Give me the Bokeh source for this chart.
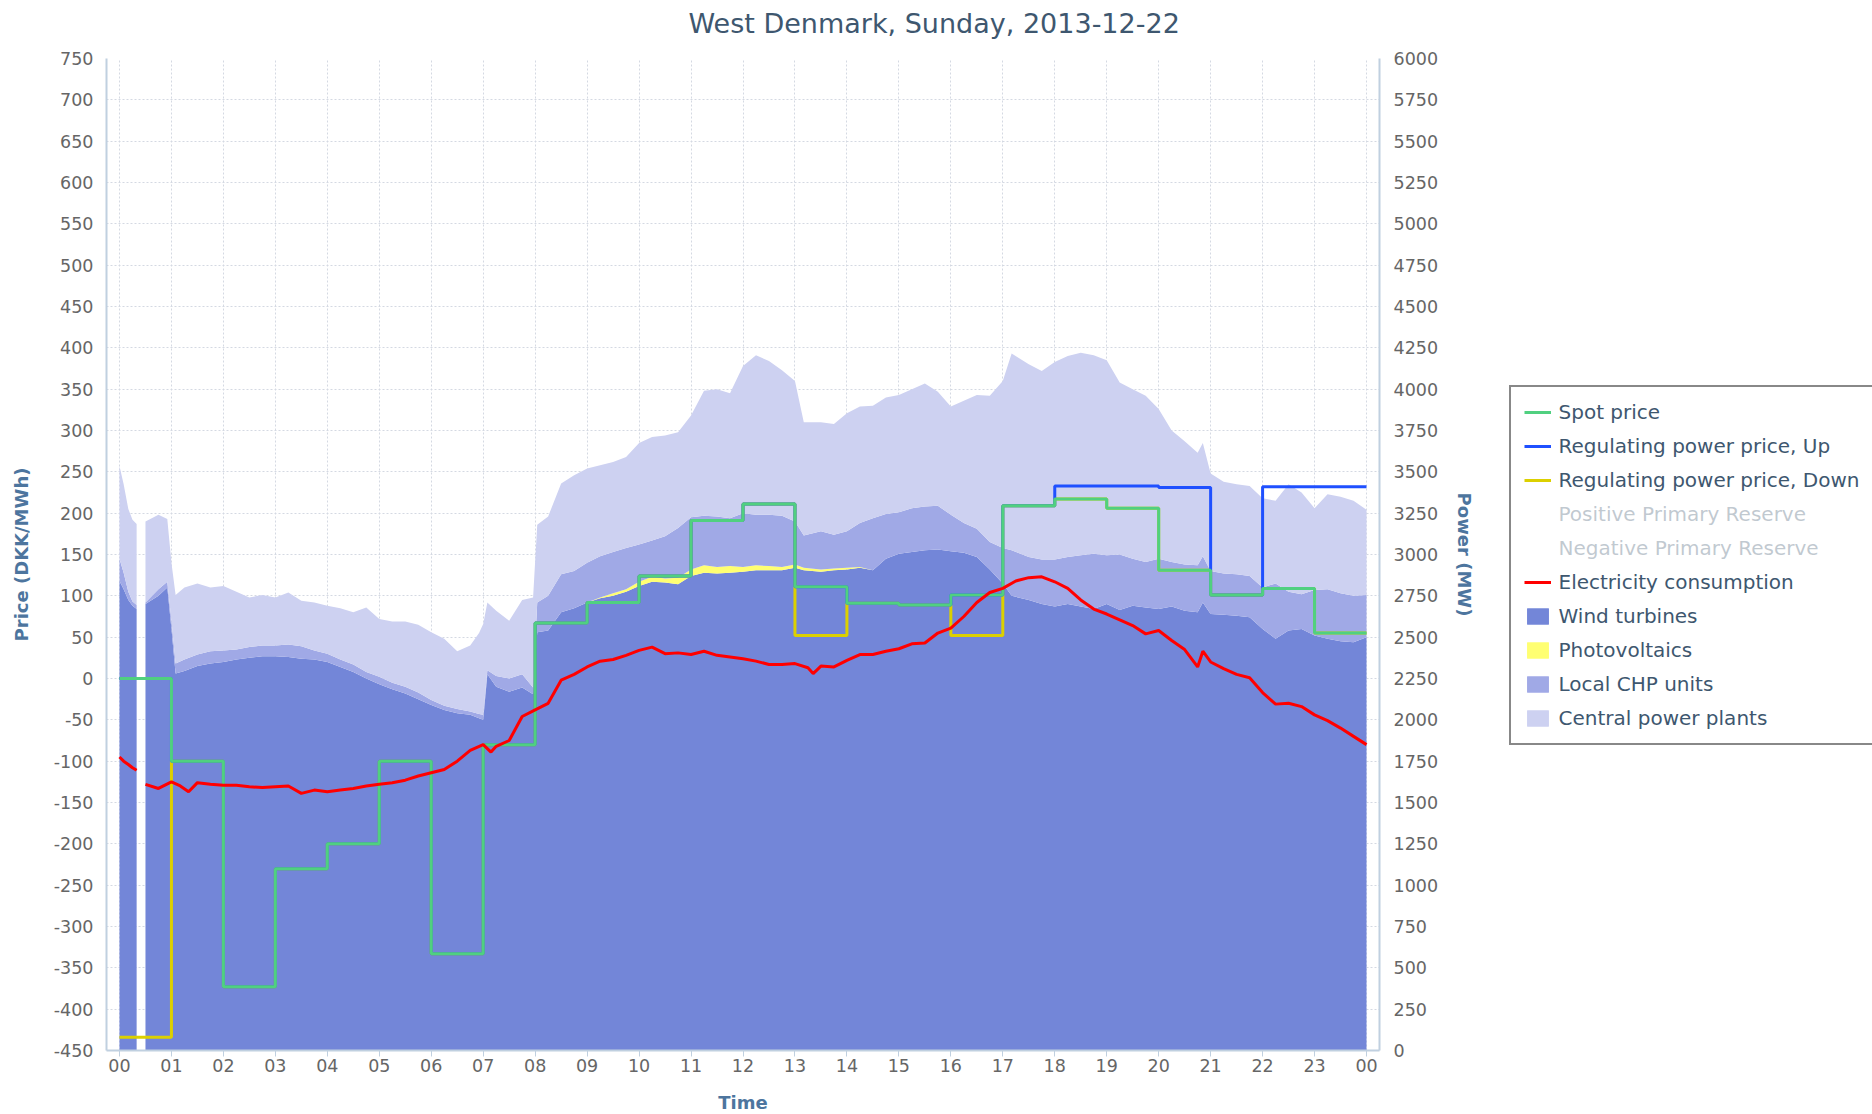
import math
from bokeh.plotting import figure
from bokeh.models import Range1d, LinearAxis, FixedTicker, Legend, LegendItem, Title
from bokeh.embed import file_html
from bokeh.resources import INLINE

NaN = float("nan")

# ---------------- data ----------------
title_text = "West Denmark, Sunday, 2013-12-22"
hour_ticks = list(range(0, 25))
hour_labels = ["00", "01", "02", "03", "04", "05", "06", "07", "08", "09", "10", "11",
               "12", "13", "14", "15", "16", "17", "18", "19", "20", "21", "22", "23", "00"]
price_ticks = list(range(-450, 751, 50))
power_ticks = list(range(0, 6001, 250))

# hourly prices (DKK/MWh), value for hour h..h+1
spot_price = [0, -100, -373, -230, -200, -100, -333, -80, 67, 92, 124, 191,
              211, 111, 91, 89, 101, 209, 217, 206, 131, 101, 109, 55]
reg_up_price = [0, -100, -373, -230, -200, -100, -333, -80, 67, 92, 124, 191,
                211, 111, 91, 89, 101, 209, 233, 233, 231, 101, 232, 232]
reg_down_price = [-434, -100, -373, -230, -200, -100, -333, -80, 67, 92, 124, 191,
                  211, 52, 91, 89, 52, 209, 217, 206, 131, 101, 109, 55]

# production (MW), stacked
area_hours = [0.0, 0.08, 0.17, 0.25, 0.33, 0.42, 0.5, 0.75, 0.92, 1.0, 1.08,
              1.25, 1.5, 1.75, 2.0, 2.25, 2.5, 2.75, 3.0, 3.25, 3.5, 3.75, 4.0, 4.25, 4.5, 4.75,
              5.0, 5.25, 5.5, 5.75, 6.0, 6.25, 6.5, 6.75, 6.92, 7.0,
              7.08, 7.25, 7.5, 7.75, 7.96, 8.04, 8.25, 8.5, 8.75, 9.0, 9.25, 9.5, 9.75, 10.0,
              10.25, 10.5, 10.75, 11.0, 11.25, 11.5, 11.75, 12.0, 12.25, 12.5, 12.75, 13.0,
              13.17, 13.5, 13.75, 14.0, 14.25, 14.5, 14.75, 15.0, 15.25, 15.5, 15.75, 16.0,
              16.25, 16.5, 16.75, 17.0, 17.17, 17.5, 17.75, 18.0, 18.25, 18.5, 18.75, 19.0,
              19.25, 19.5, 19.75, 20.0, 20.25, 20.5, 20.75, 20.85, 21.0, 21.25, 21.5, 21.75,
              22.0, 22.25, 22.5, 22.75, 23.0, 23.25, 23.5, 23.75, 24.0]
wind_mw = [2840, 2790, 2725, 2690, 2670, NaN, 2700, 2750, 2800, 2550, 2280,
           2295, 2325, 2340, 2350, 2365, 2375, 2385, 2385, 2380, 2370, 2365, 2350, 2320, 2290, 2250,
           2215, 2185, 2160, 2125, 2090, 2060, 2040, 2030, 2010, 2000,
           2275, 2200, 2170, 2195, 2155, 2530, 2540, 2650, 2675, 2710, 2735, 2750, 2775, 2810,
           2835, 2830, 2820, 2870, 2890, 2885, 2890, 2895, 2905, 2905, 2905, 2920,
           2905, 2895, 2905, 2910, 2920, 2905, 2975, 3005, 3015, 3025, 3030, 3020,
           3010, 2985, 2910, 2825, 2750, 2725, 2700, 2685, 2700, 2685, 2670, 2700,
           2665, 2690, 2680, 2670, 2685, 2660, 2650, 2710, 2640, 2635, 2630, 2620,
           2550, 2490, 2540, 2550, 2510, 2490, 2475, 2470, 2500]
pv_mw = [0, 0, 0, 0, 0, NaN, 0, 0, 0, 0, 0,
         0, 0, 0, 0, 0, 0, 0, 0, 0, 0, 0, 0, 0, 0, 0,
         0, 0, 0, 0, 0, 0, 0, 0, 0, 0,
         0, 0, 0, 0, 0, 0, 0, 0, 0, 0, 5, 15, 15, 25,
         30, 25, 40, 40, 45, 40, 40, 30, 30, 25, 20, 20,
         15, 15, 10, 10, 5, 0, 0, 0, 0, 0, 0, 0,
         0, 0, 0, 0, 0, 0, 0, 0, 0, 0, 0, 0,
         0, 0, 0, 0, 0, 0, 0, 0, 0, 0, 0, 0,
         0, 0, 0, 0, 0, 0, 0, 0, 0]
chp_mw = [135, 100, 50, 25, 25, NaN, 10, 40, 35, 50, 60,
          70, 70, 75, 70, 60, 65, 65, 65, 75, 75, 55, 50, 45, 45, 40,
          45, 40, 40, 40, 30, 25, 25, 20, 25, 30,
          25, 65, 80, 80, 40, 180, 210, 230, 225, 240, 250, 250, 250, 225,
          220, 255, 300, 315, 300, 305, 290, 325, 305, 310, 310, 260,
          195, 230, 205, 220, 265, 315, 270, 250, 265, 265, 265, 220,
          180, 170, 165, 215, 275, 260, 270, 285, 285, 310, 335, 295,
          335, 285, 275, 305, 270, 280, 285, 280, 260, 250, 250, 250,
          250, 335, 235, 210, 275, 300, 290, 280, 255]
central_mw = [560, 535, 500, 495, 490, NaN, 490, 450, 380, 350, 415,
              435, 430, 385, 390, 350, 300, 305, 290, 315, 275, 290, 290, 310, 315, 390,
              350, 370, 395, 410, 410, 405, 350, 400, 490, 550,
              410, 395, 350, 450, 545, 470, 480, 550, 580, 570, 550, 545, 550, 615,
              625, 610, 580, 615, 755, 770, 755, 890, 965, 930, 880, 850,
              685, 660, 670, 715, 705, 680, 705, 710, 720, 745, 690, 655,
              740, 810, 885, 1010, 1190, 1165, 1140, 1195, 1215, 1225, 1200, 1180,
              1040, 1025, 1005, 905, 795, 745, 680, 685, 590, 555, 545, 545,
              540, 500, 650, 615, 495, 575, 585, 575, 515]

# consumption (MW)
load_hours = [0.0, 0.08, 0.17, 0.25, 0.33, 0.42, 0.5, 0.75,
              1.0, 1.17, 1.33, 1.5, 1.75, 2.0, 2.25, 2.5,
              2.75, 3.0, 3.25, 3.5, 3.75, 4.0, 4.25, 4.5,
              4.75, 5.0, 5.25, 5.5, 5.75, 6.0, 6.25, 6.5,
              6.75, 7.0, 7.15, 7.25, 7.5, 7.75, 8.0, 8.25,
              8.5, 8.75, 9.0, 9.25, 9.5, 9.75, 10.0, 10.25,
              10.5, 10.75, 11.0, 11.25, 11.5, 11.75, 12.0, 12.25,
              12.5, 12.75, 13.0, 13.25, 13.35, 13.5, 13.75, 14.0,
              14.25, 14.5, 14.75, 15.0, 15.25, 15.5, 15.75, 16.0,
              16.25, 16.5, 16.75, 17.0, 17.25, 17.5, 17.75, 18.0,
              18.25, 18.5, 18.75, 19.0, 19.25, 19.5, 19.75, 20.0,
              20.25, 20.5, 20.75, 20.85, 21.0, 21.25, 21.5, 21.75,
              22.0, 22.25, 22.5, 22.75, 23.0, 23.25, 23.5, 23.75, 24.0]
load_mw = [1775, 1750, 1730, 1710, 1695, NaN, 1610, 1585,
           1625, 1600, 1565, 1620, 1610, 1605, 1605, 1595,
           1590, 1595, 1600, 1555, 1575, 1565, 1575, 1585,
           1600, 1610, 1620, 1635, 1660, 1680, 1700, 1750,
           1815, 1850, 1805, 1840, 1875, 2020, 2060, 2100,
           2240, 2275, 2320, 2355, 2365, 2390, 2420, 2440,
           2400, 2405, 2395, 2415, 2390, 2380, 2370, 2355,
           2335, 2335, 2340, 2315, 2280, 2325, 2320, 2360,
           2395, 2395, 2415, 2430, 2460, 2465, 2525, 2555,
           2625, 2710, 2770, 2795, 2840, 2860, 2865, 2835,
           2795, 2725, 2670, 2640, 2605, 2570, 2520, 2540,
           2480, 2425, 2320, 2415, 2350, 2310, 2275, 2255,
           2165, 2095, 2100, 2080, 2030, 1995, 1950, 1900, 1850]

# ---------------- styles ----------------
WIND_C = "#7386d8"
PV_C = "#ffff72"
CHP_C = "#a0a9e6"
CEN_C = "#cdd1f1"
SPOT_C = "#50d080"
UP_C = "#1f50ff"
DOWN_C = "#dcd000"
LOAD_C = "#ff0000"
AXIS_LINE_C = "#c0d0e0"
GRID_C = "#d4d9e2"
TICK_C = "#666666"
TITLE_C = "#3e576f"
AXTITLE_C = "#4d759e"
FONT = "DejaVu Sans"

p = figure(frame_width=1273, frame_height=992,
           x_range=Range1d(-0.25, 24.25), y_range=Range1d(-450, 750),
           output_backend="svg", toolbar_location=None,
           min_border_left=106, min_border_right=493, min_border_top=58, min_border_bottom=40)
p.extra_y_ranges = {"power": Range1d(0, 6000)}
p.outline_line_color = None
p.background_fill_color = "white"
p.border_fill_color = "white"

# title, with a blank (white) spacer between it and the frame
spacer = Title(text="|", text_font=FONT, text_font_size="10px", standoff=6,
               text_color="white", align="left", offset=0)
p.add_layout(spacer, "above")
main_title = Title(text=title_text, align="left", offset=582, vertical_align="bottom", standoff=2,
                   text_font=FONT, text_font_size="27px", text_font_style="normal",
                   text_color=TITLE_C)
p.add_layout(main_title, "above")

# grids
p.xgrid.ticker = FixedTicker(ticks=hour_ticks)
p.ygrid.ticker = FixedTicker(ticks=price_ticks)
for g in (p.xgrid, p.ygrid):
    g.grid_line_color = GRID_C
    g.grid_line_dash = "2 2"
    g.grid_line_width = 1

# axes
xa = p.xaxis[0]
xa.ticker = FixedTicker(ticks=hour_ticks)
xa.major_label_overrides = {t: lab for t, lab in zip(hour_ticks, hour_labels)}
xa.axis_label = "Time"
xa.major_tick_out = 6
xa.major_tick_in = 0
xa.major_label_standoff = 2
xa.axis_label_standoff = 17

ya = p.yaxis[0]
ya.ticker = FixedTicker(ticks=price_ticks)
ya.major_label_overrides = {t: str(t) for t in price_ticks}
ya.axis_label = "Price (DKK/MWh)"
ya.major_tick_out = 0
ya.major_tick_in = 0
ya.major_label_standoff = 13
ya.axis_label_standoff = 19

yr = LinearAxis(y_range_name="power", ticker=FixedTicker(ticks=power_ticks), axis_label="Power (MW)")
yr.major_tick_out = 0
yr.major_tick_in = 0
yr.major_label_standoff = 14
yr.axis_label_standoff = 13
p.add_layout(yr, "right")

for ax in (xa, ya, yr):
    ax.axis_line_color = AXIS_LINE_C
    ax.axis_line_width = 2
    ax.major_tick_line_color = AXIS_LINE_C
    ax.minor_tick_line_color = None
    ax.major_label_text_font = FONT
    ax.major_label_text_font_size = "17.5px"
    ax.major_label_text_color = TICK_C
    ax.axis_label_text_font = FONT
    ax.axis_label_text_font_size = "18px"
    ax.axis_label_text_font_style = "bold"
    ax.axis_label_text_color = AXTITLE_C

# ---------------- stacked areas ----------------
layers = [("Wind turbines", wind_mw, WIND_C),
          ("Photovoltaics", pv_mw, PV_C),
          ("Local CHP units", chp_mw, CHP_C),
          ("Central power plants", central_mw, CEN_C)]

runs, cur = [], []
for i in range(len(area_hours)):
    if any(math.isnan(vals[i]) for _, vals, _ in layers):
        if cur:
            runs.append(cur)
            cur = []
    else:
        cur.append(i)
if cur:
    runs.append(cur)

area_r = {name: [] for name, _, _ in layers}
for run in runs:
    xs = [area_hours[i] for i in run]
    base = [0.0] * len(run)
    for name, vals, col in layers:
        top = [b + vals[i] for b, i in zip(base, run)]
        r = p.varea(x=xs, y1=base, y2=top, fill_color=col, fill_alpha=1.0, y_range_name="power")
        area_r[name].append(r)
        base = top

# ---------------- price step lines ----------------
step_x = hour_ticks
down_r = p.step(x=step_x, y=reg_down_price + [reg_down_price[-1]], mode="after",
                line_color=DOWN_C, line_width=3)
up_r = p.step(x=step_x, y=reg_up_price + [reg_up_price[-1]], mode="after",
              line_color=UP_C, line_width=3)
spot_r = p.step(x=step_x, y=spot_price + [spot_price[-1]], mode="after",
                line_color=SPOT_C, line_width=3)

load_r = p.line(x=load_hours, y=load_mw, line_color=LOAD_C, line_width=3, y_range_name="power")

pos_r = p.line(x=[], y=[], line_color="#555555", line_width=3, visible=False)
neg_r = p.line(x=[], y=[], line_color="#555555", line_width=3, visible=False)

items = [
    LegendItem(label="Spot price", renderers=[spot_r]),
    LegendItem(label="Regulating power price, Up", renderers=[up_r]),
    LegendItem(label="Regulating power price, Down", renderers=[down_r]),
    LegendItem(label="Positive Primary Reserve", renderers=[pos_r]),
    LegendItem(label="Negative Primary Reserve", renderers=[neg_r]),
    LegendItem(label="Electricity consumption", renderers=[load_r]),
    LegendItem(label="Wind turbines", renderers=area_r["Wind turbines"]),
    LegendItem(label="Photovoltaics", renderers=area_r["Photovoltaics"]),
    LegendItem(label="Local CHP units", renderers=area_r["Local CHP units"]),
    LegendItem(label="Central power plants", renderers=area_r["Central power plants"]),
]
legend = Legend(items=items, location=(-206, 305), click_policy="hide",
                label_text_font=FONT, label_text_font_size="20px", label_text_color=TITLE_C,
                glyph_width=27, glyph_height=20, label_height=20, spacing=10,
                padding=13, label_standoff=8, margin=0,
                border_line_color="#111111", border_line_width=2,
                background_fill_color="white", background_fill_alpha=1.0,
                inactive_fill_color="white", inactive_fill_alpha=0.68)
p.add_layout(legend, "right")

open("out.html", "w").write(file_html(p, INLINE))
